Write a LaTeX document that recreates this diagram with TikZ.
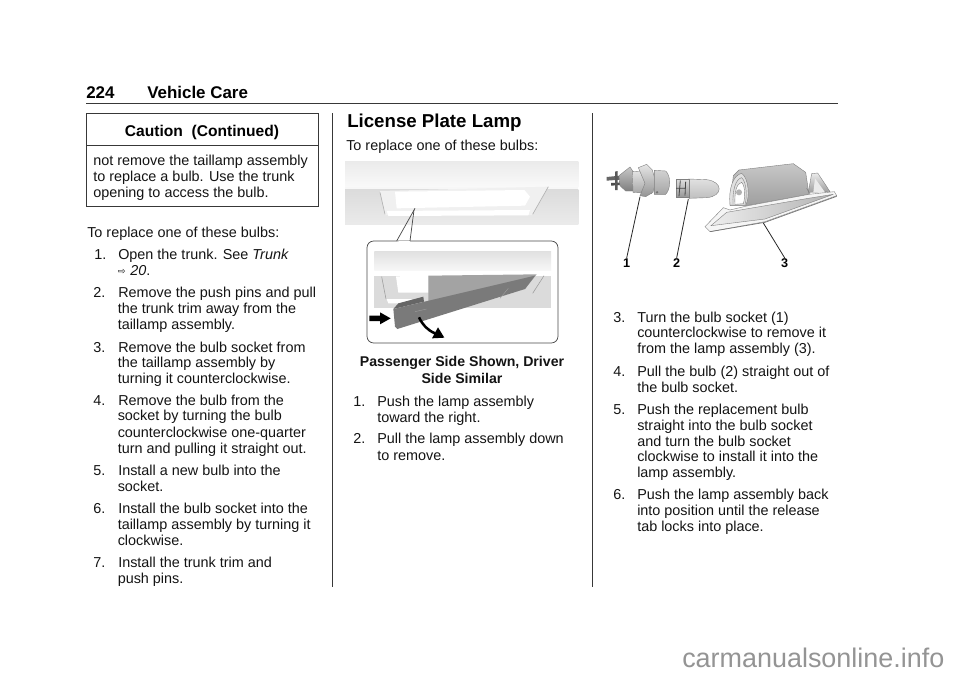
\documentclass[tikz,border=0pt]{standalone}
\usepackage{fontspec}
\setmainfont{Liberation Sans}
\newfontfamily\symfont{DejaVu Sans}
\tikzset{
  txt/.style={anchor=base west,inner sep=0pt,font=\fontsize{10.8pt}{12pt}\selectfont,text=black!92},
  captxt/.style={anchor=base,inner sep=0pt,font=\fontsize{10.6pt}{12pt}\selectfont\bfseries,text=black!92},
  hdr/.style={anchor=base west,inner sep=0pt,font=\fontsize{12.7pt}{14pt}\selectfont\bfseries},
  callnum/.style={anchor=base,inner sep=0pt,font=\fontsize{9.5pt}{12pt}\selectfont\bfseries},
  rulel/.style={draw=black!78,line width=0.72pt},
  leader/.style={draw=black!85,line width=0.6pt},
  part/.style={draw=black!50,line width=0.3pt},
}
\begin{document}
\begin{tikzpicture}[x=0.75pt,y=-0.75pt]
\useasboundingbox (0,0) rectangle (960,678);
\fill[white] (0,0) rectangle (960,678);
% header
\node[hdr] (pg) at (86,98) {224};
\node[hdr] (vc) at (147,98) {Vehicle Care};
\draw[rulel] (86,103) -- (838,103);
\draw[rulel] (332,113) -- (332,587);
\draw[rulel] (592,113) -- (592,587);
% caution box
\draw[rulel] (86,113) rectangle (318.5,206.5);
\draw[rulel] (86,145) -- (318.5,145);
\node[anchor=base,inner sep=0pt,font=\fontsize{11.7pt}{14pt}\selectfont\bfseries] (ct) at (202,136) {Caution\ \ (Continued)};
\node[txt] (c1) at (93,165) {not remove the taillamp assembly};
\node[txt] (c2) at (93,181) {to replace a bulb. Use the trunk};
\node[txt] (c3) at (93,197) {opening to access the bulb.};
\node[txt] (t0) at (87,237) {To replace one of these bulbs:};
% column 1
\node[txt] (n1) at (94,259) {1.};
\node[txt] (a1) at (118,259) {Open the trunk. See \textit{Trunk}};
\node[txt,font=\fontsize{7pt}{8pt}\selectfont\symfont] (arr) at (117.5,274.5) {⇨};
\node[txt] (a1b) at (130,275) {\textit{20}.};
\node[txt] (n2) at (93,297) {2.};
\node[txt] (a2) at (118,297) {Remove the push pins and pull};
\node[txt] (a2b) at (117.5,313) {the trunk trim away from the};
\node[txt] (a2c) at (117.5,329) {taillamp assembly.};
\node[txt] (n3) at (93,352) {3.};
\node[txt] (a3) at (118,352) {Remove the bulb socket from};
\node[txt] (a3b) at (117.5,367.5) {the taillamp assembly by};
\node[txt] (a3c) at (117.5,383) {turning it counterclockwise.};
\node[txt] (n4) at (93,405) {4.};
\node[txt] (a4) at (118,405) {Remove the bulb from the};
\node[txt] (a4b) at (117.5,420.5) {socket by turning the bulb};
\node[txt] (a4c) at (117.5,437) {counterclockwise one-quarter};
\node[txt] (a4d) at (117.5,453) {turn and pulling it straight out.};
\node[txt] (n5) at (93,475) {5.};
\node[txt] (a5) at (118,475) {Install a new bulb into the};
\node[txt] (a5b) at (117.5,491) {socket.};
\node[txt] (n6) at (93,513) {6.};
\node[txt] (a6) at (118,513) {Install the bulb socket into the};
\node[txt] (a6b) at (117.5,529) {taillamp assembly by turning it};
\node[txt] (a6c) at (117.5,545) {clockwise.};
\node[txt] (n7) at (93,567) {7.};
\node[txt] (a7) at (118,567) {Install the trunk trim and};
\node[txt] (a7b) at (117.5,583) {push pins.};
% column 2
\node[anchor=base west,inner sep=0pt,font=\fontsize{14pt}{16pt}\selectfont\bfseries] (lp) at (347,127) {License Plate Lamp};
\node[txt] (t1) at (346,150) {To replace one of these bulbs:};
\node[captxt] (cp1) at (462,366) {Passenger Side Shown, Driver};
\node[captxt] (cp2) at (462,383) {Side Similar};
\node[txt] (b1n) at (353,406) {1.};
\node[txt] (b1) at (377,406) {Push the lamp assembly};
\node[txt] (b1b) at (377,422) {toward the right.};
\node[txt] (b2n) at (353,443) {2.};
\node[txt] (b2) at (377,443) {Pull the lamp assembly down};
\node[txt] (b2b) at (377,460) {to remove.};
% column 3
\node[txt] (d3n) at (613,322) {3.};
\node[txt] (d3) at (637,322) {Turn the bulb socket (1)};
\node[txt] (d3b) at (637,337.5) {counterclockwise to remove it};
\node[txt] (d3c) at (637,353) {from the lamp assembly (3).};
\node[txt] (d4n) at (613,376) {4.};
\node[txt] (d4) at (637,376) {Pull the bulb (2) straight out of};
\node[txt] (d4b) at (637,392) {the bulb socket.};
\node[txt] (d5n) at (613,414) {5.};
\node[txt] (d5) at (637,414) {Push the replacement bulb};
\node[txt] (d5b) at (637,430) {straight into the bulb socket};
\node[txt] (d5c) at (637,446) {and turn the bulb socket};
\node[txt] (d5d) at (637,461.5) {clockwise to install it into the};
\node[txt] (d5e) at (637,477) {lamp assembly.};
\node[txt] (d6n) at (613,499) {6.};
\node[txt] (d6) at (637,499) {Push the lamp assembly back};
\node[txt] (d6b) at (637,515) {into position until the release};
\node[txt] (d6c) at (637,531) {tab locks into place.};
% watermark
\node[anchor=base west,inner sep=0pt,text=black!42,font=\fontsize{20.2pt}{22pt}\selectfont] (wm) at (682,667) {carmanualsonline.info};

% left photo, in the 3x crop frame
\begin{scope}[shift={(340,155)},x=0.25pt,y=-0.25pt]
  \shade[top color=black!8,bottom color=black!2] (15,20) rectangle (715,98);
  \fill[black!3] (15,96) rectangle (715,102);
  \shade[top color=black!14,bottom color=black!8] (15,102) rectangle (715,208);
  \fill[black!6] (120,108) -- (625,95) -- (578,180) -- (135,180) -- cycle;
  \fill[white] (165,110) -- (553,105) -- (570,125) -- (555,152) -- (170,160) -- cycle;
  \fill[white] (140,168) -- (570,165) -- (565,181) -- (145,183) -- cycle;
  \draw[black!30,line width=0.5pt] (120,112) -- (135,178);
  \draw[black!30,line width=0.5pt] (625,95) -- (578,178);
  \coordinate (lcA) at (225,160);
  \coordinate (lcB) at (170,258);
  \coordinate (lcC) at (222,165);
  \coordinate (lcD) at (210,258);
  % inset
  \shade[top color=black!12,bottom color=black!3] (103,288) rectangle (633,347);
  \fill[black!14] (103,362) rectangle (633,458);
  \fill[black!36] (265,362) -- (590,358) -- (555,402) -- (265,445) -- cycle;
  \fill[white] (168,364) -- (264,362) -- (264,413) -- (175,413) -- cycle;
  \fill[white] (140,432) -- (215,432) -- (215,445) -- (145,445) -- cycle;
  \draw[black!40,line width=0.4pt] (125,365) -- (138,432);
  \draw[black!40,line width=0.4pt] (612,362) -- (578,415);
  \fill[black!60] (160,462) -- (175,445) -- (250,425) -- (252,440) -- cycle;
  \fill[black!52] (160,462) -- (585,362) -- (555,402) -- (172,522) -- (165,515) -- cycle;
  \draw[black!38,line width=0.3pt] (480,430) -- (505,400);
  \draw[black!38,line width=0.3pt] (225,470) -- (260,462);
  \fill[black] (88,482) -- (120,482) -- (120,472) -- (152,490) -- (120,508) -- (120,498) -- (88,498) -- cycle;
  \draw[black,line width=1.9pt] (237,487) .. controls (248,510) and (262,525) .. (285,535);
  \fill[black] (276,550) -- (313,548) -- (294,517) -- cycle;
\end{scope}
\draw[black!70,line width=0.55pt,rounded corners=5pt]
  (367,241) rectangle (558,343);
\fill[white] (lcB) -- (lcD) -- ++(0,1) -- ++(-10,0) -- cycle;
\draw[black!70,line width=0.55pt] (lcB) -- (lcA);
\draw[black!70,line width=0.55pt] (lcD) -- (lcC);

% exploded parts, in the 3x crop frame
\begin{scope}[shift={(595,155)},x=0.25pt,y=-0.25pt]
  % socket
  \fill[black!60] (35,66) -- (75,62) -- (75,74) -- (35,77) -- cycle;
  \fill[black!70] (48,84) -- (80,82) -- (80,90) -- (48,92) -- cycle;
  \fill[black!65] (60,50) -- (68,48) -- (68,105) -- (60,105) -- cycle;
  \path[part,top color=black!22,middle color=black!5,bottom color=black!50] (72,62) -- (105,36) -- (118,55) -- (118,108) -- (92,108) -- (75,92) -- cycle;
  \path[part,top color=black!10,middle color=white,bottom color=black!35] (112,50) -- (170,46) -- (170,115) -- (114,112) -- cycle;
  \path[part,top color=black!10,middle color=black!3,bottom color=black!42] (130,38) -- (155,28) -- (172,45) -- (182,80) -- (174,112) -- (152,125) -- (135,122) -- (150,85) -- cycle;
  \path[part,top color=black!18,middle color=white,bottom color=black!35] (178,46) -- (212,48) .. controls (228,62) and (228,102) .. (212,118) -- (178,118) -- cycle;
  \fill[black!55] (186,112) circle [radius=4];
  % bulb
  \path[part,top color=black!12,middle color=white,bottom color=black!25] (280,72) -- (335,74) .. controls (385,80) and (385,124) .. (335,128) -- (282,130) -- cycle;
  \path[part,top color=black!12,middle color=black!25,bottom color=black!42] (245,72) -- (282,72) -- (282,128) -- (245,128) -- cycle;
  \draw[black!72,line width=0.6pt] (243,100) -- (272,100) (256,76) -- (252,124) (272,80) -- (270,122);
  % lamp
  \path[part,top color=black!8,bottom color=black!38] (640,112) -- (650,56) -- (668,54) -- (705,110) -- cycle;
  \fill[black!8] (655,112) -- (660,70) -- (690,112) -- cycle;
  \path[part,top color=black!22,middle color=black!8,bottom color=black!38] (415,62) -- (432,45) -- (595,26) -- (632,52) -- (642,118) -- (455,152) -- (405,152) -- cycle;
  \path[part,fill=black!12] (405,150) .. controls (400,100) and (415,60) .. (440,55) .. controls (462,70) and (465,130) .. (452,150) -- cycle;
  \path[part,fill=white] (420,148) .. controls (418,110) and (425,85) .. (440,82) .. controls (452,95) and (450,130) .. (445,146) -- cycle;
  \draw[part] (414,148) .. controls (412,105) and (422,72) .. (440,68) .. controls (456,82) and (456,130) .. (450,148);
  \fill[black!30] (432,112) circle [radius=9];
  \draw[black!50,line width=0.4pt] (635,100) -- (648,122);
  \path[part,fill=black!4] (330,215) -- (385,158) -- (405,165) -- (455,153) -- (642,118) -- (718,110) -- (725,122) -- (510,200) -- (345,230) -- cycle;
  \path[part,left color=black!7,right color=black!30] (348,212) -- (395,172) -- (640,130) -- (715,118) -- (510,192) -- cycle;
  \draw[black!55,line width=0.5pt] (345,230) -- (510,202) -- (725,124);
  % labels and leaders
  \node[callnum] (l1) at (95,336) {1};
  \node[callnum] (l2) at (245,336) {2};
  \node[callnum] (l3) at (569,336) {3};
  \coordinate (p1) at (135,125);
  \coordinate (p2) at (280,132);
  \coordinate (p3) at (505,204);
  \draw[leader] (p1) -- (l1.north);
  \draw[leader] (p2) -- (l2.north);
  \draw[leader] (p3) -- (l3.north);
\end{scope}
\end{tikzpicture}
\end{document}
